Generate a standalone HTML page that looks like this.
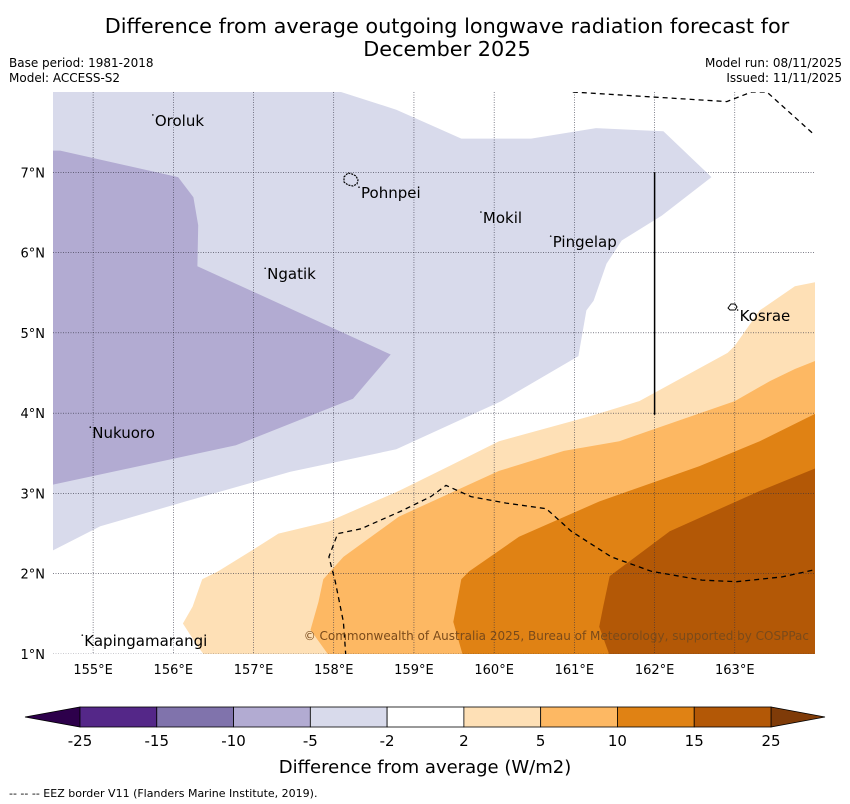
<!DOCTYPE html>
<html><head><meta charset="utf-8"><style>
html,body{margin:0;padding:0;background:#fff;width:850px;height:804px;overflow:hidden;font-family:"Liberation Sans","DejaVu Sans",sans-serif;}
</style></head><body>
<svg id="chart" width="850" height="804" xmlns="http://www.w3.org/2000/svg" font-family="'DejaVu Sans','Liberation Sans',sans-serif">
<text x="447" y="33" font-size="20.8" text-anchor="middle">Difference from average outgoing longwave radiation forecast for</text>
<text x="447" y="56" font-size="20.8" text-anchor="middle">December 2025</text>
<text x="9" y="67" font-size="12">Base period: 1981-2018</text>
<text x="9" y="82" font-size="12">Model: ACCESS-S2</text>
<text x="842" y="67" font-size="12" text-anchor="end">Model run: 08/11/2025</text>
<text x="842" y="82" font-size="12" text-anchor="end">Issued: 11/11/2025</text>
<g id="map"></g>
<g id="cbar"></g>
<text x="425" y="773" font-size="18" text-anchor="middle">Difference from average (W/m2)</text>
<text x="9" y="797" font-size="11">--  --  -- EEZ border V11 (Flanders Marine Institute, 2019).</text>
</svg>
<script>
const NS="http://www.w3.org/2000/svg";
// map extent
const lonMin=154.5, lonMax=164.0, latMin=1.0, latMax=8.0;
const lonTicks=[155,156,157,158,159,160,161,162,163];
const latTicks=[1,2,3,4,5,6,7];
// contour polygons [lon,lat]
const polyLightPurple=[[154.5,8],[158.09,8],[158.78,7.78],[159.59,7.42],[160.46,7.42],[161.27,7.55],[162.11,7.51],[162.71,6.94],[162.09,6.46],[161.59,6.15],[161.4,5.86],[161.24,5.4],[161.15,5.28],[161.05,4.71],[160.09,4.15],[158.78,3.55],[157.46,3.27],[156.15,2.9],[155.09,2.59],[154.5,2.29]];
const polyMidPurple=[[154.5,7.27],[154.59,7.27],[156.06,6.94],[156.25,6.69],[156.31,6.34],[156.3,5.83],[158.71,4.73],[158.24,4.18],[156.78,3.6],[154.5,3.11]];
const polyLightOrange=[[164,5.63],[163.75,5.58],[163.31,5.28],[163.0,4.84],[162.91,4.75],[161.81,4.15],[161.19,3.96],[160.06,3.65],[159.44,3.34],[158.81,3.03],[157.94,2.65],[157.31,2.5],[157.06,2.34],[156.56,2.03],[156.36,1.93],[156.24,1.59],[156.12,1.38],[156.3,1.1],[156.39,0.98],[164,0.98]];
const polyOrange=[[164,4.65],[163.75,4.55],[163.44,4.4],[163.0,4.15],[161.56,3.65],[160.87,3.53],[160.06,3.28],[158.81,2.71],[158.12,2.21],[157.87,1.93],[157.81,1.65],[157.71,1.3],[157.94,0.98],[164,0.98]];
const polyDarkOrange=[[164,3.99],[163.31,3.65],[162.56,3.34],[161.31,2.9],[160.31,2.46],[159.69,2.03],[159.59,1.93],[159.49,1.4],[159.61,0.98],[164,0.98]];
const polyDarkest=[[164,3.31],[163.31,3.03],[162.19,2.53],[161.44,1.97],[161.36,1.59],[161.31,1.34],[161.44,0.98],[164,0.98]];
const eezTop=[[160.98,8],[162.9,7.88],[163.21,8.0],[163.4,8.0],[164,7.46]];
const eezBottom=[[158.15,0.98],[158.12,1.4],[158.02,1.9],[157.94,2.21],[158.05,2.5],[158.34,2.56],[158.84,2.78],[159.21,2.96],[159.4,3.1],[159.71,2.96],[160.15,2.88],[160.65,2.81],[160.96,2.53],[161.46,2.21],[161.96,2.03],[162.59,1.92],[163.02,1.9],[163.59,1.96],[164,2.05]];
const blackLine=[[162.0,7.0],[162.0,3.98]];
const places=["Oroluk","Pohnpei","Mokil","Pingelap","Ngatik","Kosrae","Nukuoro","Kapingamarangi"];
const placeLon=[155.77,158.34,159.86,160.73,157.17,163.06,154.99,154.89];
const placeLat=[7.64,6.74,6.43,6.13,5.73,5.21,3.75,1.16];
// colorbar
const cbColors=["#542788","#8073ac","#b2abd2","#d8daeb","#ffffff","#fee0b6","#fdb863","#e08214","#b35806"];
const cbLabels=["-25","-15","-10","-5","-2","2","5","10","15","25"];
const cbLow="#2d004b", cbHigh="#7f3b08";

const X0=53,X1=815,Y0=92,Y1=654;
const sx=l=>X0+(l-lonMin)/(lonMax-lonMin)*(X1-X0);
const sy=l=>Y0+(latMax-l)/(latMax-latMin)*(Y1-Y0);
function el(tag,attrs,parent){const e=document.createElementNS(NS,tag);for(const k in attrs)e.setAttribute(k,attrs[k]);parent.appendChild(e);return e;}
const pts=a=>a.map(p=>sx(p[0]).toFixed(1)+","+sy(p[1]).toFixed(1)).join(" ");
const map=document.getElementById("map");
const clip=el("clipPath",{id:"mc"},map);el("rect",{x:X0,y:Y0,width:X1-X0,height:Y1-Y0},clip);
const g=el("g",{"clip-path":"url(#mc)"},map);
el("rect",{x:X0,y:Y0,width:X1-X0,height:Y1-Y0,fill:"#fff"},g);
const fills=[[polyLightPurple,"#d8daeb","contour-minus5-minus2"],[polyMidPurple,"#b2abd2","contour-minus10-minus5"],[polyLightOrange,"#fee0b6","contour-2-5"],[polyOrange,"#fdb863","contour-5-10"],[polyDarkOrange,"#e08214","contour-10-15"],[polyDarkest,"#b35806","contour-15-25"]];
fills.forEach(f=>{const p=el("polygon",{points:pts(f[0]),fill:f[1]},g);

});
lonTicks.forEach(l=>{const x=sx(l);const ln=el("line",{x1:x,x2:x,y1:Y0,y2:Y1,stroke:"#334",  "stroke-width":0.6,"stroke-dasharray":"1,1.5"},g);


const t=el("text",{x:x,y:674,"font-size":13,"text-anchor":"middle"},map);t.textContent=l+"°E";

});
latTicks.forEach(l=>{const y=sy(l);const ln=el("line",{x1:X0,x2:X1,y1:y,y2:y,stroke:"#334","stroke-width":0.6,"stroke-dasharray":"1,1.5"},g);


const t=el("text",{x:45,y:y+5,"font-size":13,"text-anchor":"end"},map);t.textContent=l+"°N";

});
[eezTop,eezBottom].forEach(a=>{const p=el("polyline",{points:pts(a),fill:"none",stroke:"#000","stroke-width":1.3,"stroke-dasharray":"5,4"},g);

});
const bl=el("polyline",{points:pts(blackLine),fill:"none",stroke:"#000","stroke-width":1.5},g);


// islands
const pi=el("path",{d:"M344,177 l4,-4 4,1 4,2 2,4 -1,4 -4,2 -5,-1 -4,-3z",fill:"none",stroke:"#000","stroke-width":1.2,"stroke-dasharray":"2,1"},g);


const ki=el("path",{d:"M728,308 l3,-4 4,0 2,3 -2,3 -5,0z",fill:"none",stroke:"#000","stroke-width":1},g);


places.forEach((n,i)=>{const t=el("text",{x:sx(placeLon[i]),y:sy(placeLat[i])+5,"font-size":15},g);t.textContent=n;


const d=el("circle",{cx:sx(placeLon[i])-2,cy:sy(placeLat[i])-6,r:0.8,fill:"#000"},g);

});
const cp=el("text",{x:809,y:640,"font-size":12,"text-anchor":"end",fill:"#7a4a1a"},g);cp.textContent="© Commonwealth of Australia 2025, Bureau of Meteorology, supported by COSPPac";


// colorbar
const cb=document.getElementById("cbar");
const CX0=80,CX1=771,CY0=707,CY1=727,w=(CX1-CX0)/cbColors.length;
const lt=el("polygon",{points:`${CX0},${CY0} ${CX0},${CY1} 25,${(CY0+CY1)/2}`,fill:cbLow,stroke:"#000","stroke-width":0.8},cb);


const rt=el("polygon",{points:`${CX1},${CY0} ${CX1},${CY1} 825,${(CY0+CY1)/2}`,fill:cbHigh,stroke:"#000","stroke-width":0.8},cb);


cbColors.forEach((c,i)=>{const r=el("rect",{x:CX0+i*w,y:CY0,width:w,height:CY1-CY0,fill:c,stroke:"#000","stroke-width":0.8},cb);

});
cbLabels.forEach((s,i)=>{const t=el("text",{x:CX0+i*w,y:746,"font-size":15,"text-anchor":"middle"},cb);t.textContent=s;

});
</script>
</body></html>
